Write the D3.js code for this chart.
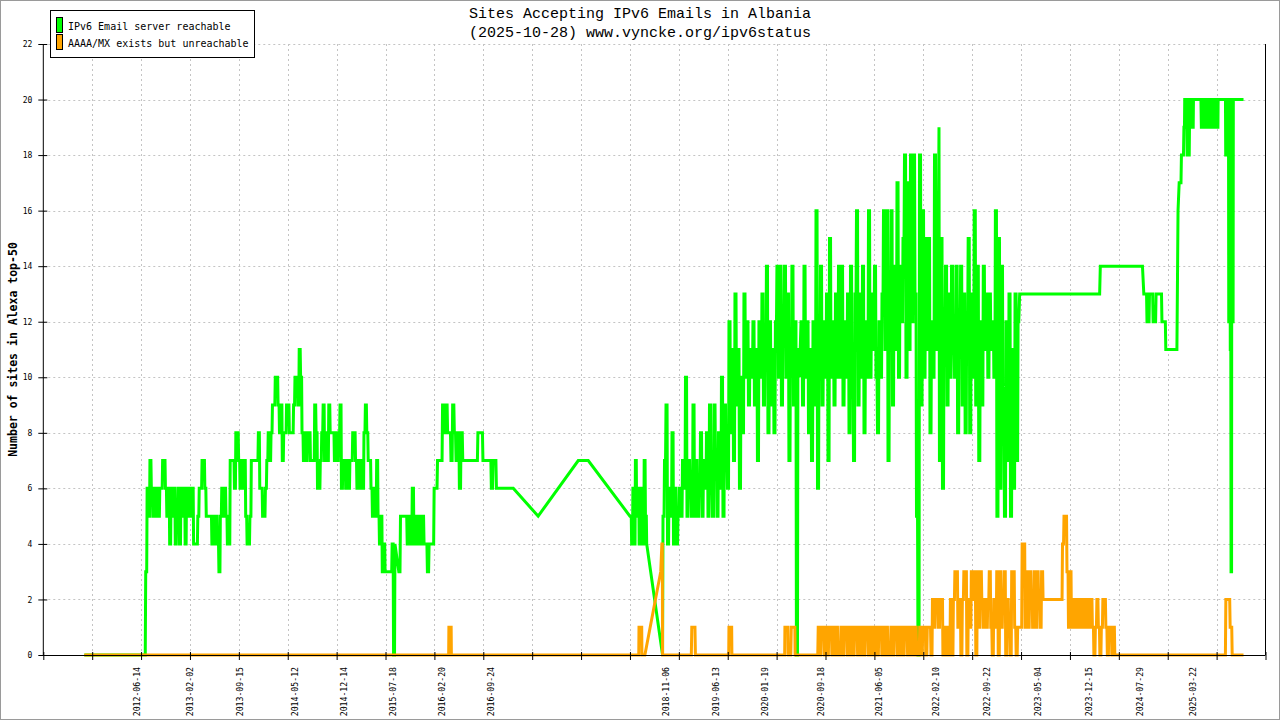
<!DOCTYPE html>
<html><head><meta charset="utf-8">
<script src="https://cdn.jsdelivr.net/npm/d3@7"></script>
<style>html,body{margin:0;padding:0;background:#fff;}svg{display:block;}</style>
</head><body>
<svg id="chart" width="1280" height="720"></svg>
<script>
// ---------- text ----------
const titleLines = ["Sites Accepting IPv6 Emails in Albania", "(2025-10-28) www.vyncke.org/ipv6status"];
const yTitle = "Number of sites in Alexa top-50";
const seriesNames = ["IPv6 Email server reachable", "AAAA/MX exists but unreachable"];
const seriesColors = ["#00ff00", "#ffa500"];

// ---------- axes ----------
const xDomain = ["2011-04-27", "2026-02-01"];
const xTickCount = 26;
const xTickLabels = ["2012-06-14","2013-02-02","2013-09-15","2014-05-12","2014-12-14","2015-07-18","2016-02-20","2016-09-24",
  "2018-11-06","2019-06-13","2020-01-19","2020-09-18","2021-06-05","2022-02-10","2022-09-22","2023-05-04","2023-12-15","2024-07-29","2025-03-22"];
const yTicks = [0,2,4,6,8,10,12,14,16,18,20,22];

// ---------- green: IPv6 Email server reachable ----------
const greenStart = [["2011-10-25",0],["2012-07-20",0]];
const greenRun2012 = [3,6,5,7,6,5,6,5,6,5, 6,6,7,7,6,5,6,4,6,5, 6,4,5,6,4,6,5,6,4,6, 5,6,5,6,4,4,4,5,6,6,
  7,7,6,5,5,5,5,4,5,4, 5,4,3,5,6,5,6,5,4,4, 7,7,7,6,8,8,7,6,7,6, 7,5,4,4,5,7,7,7,7,7, 8,6,6,5,5,6,7,8,7,8,
  9,9,10,10,9,8,9,7,8,8, 9,9,8,8,8,9,10,10,9,11, 10,8,7,8,7,8,8,7,7,7, 9,8,6,6,7,8,9,7,8,7, 9,8,8,8,7,8,7,8,9,6,
  7,7,6,7,6,7,7,8,8,7, 6,7,6,7,6,8,9,8,7,7, 6,5,6,5,7,5,4,5,3,4, 3,3,3,3,3,4,0,4];
const greenRun2015 = [3,5,5,5,5,4,5,4,6,4,5,4,5,4,5,4,4,3,4,4,4,6,6,7,7,7,9,8,9,8,8,7,9,8,7,8,6,8,7,
  7,7,7,7,7,7,7,7, 8,8,8, 7,7,7,7,7, 6,7,7, 6,6,6,6,6,6,6,6,6,6,6];
const greenGap2017 = [["2017-04-19",5],["2017-10-13",7],["2017-11-26",7],["2018-05-29",5]];
const greenRun2018 = [5,4,6,4,7,5,6,4,5,6,4,7,5,4];
const greenDrop2018 = [["2018-10-20",0]];
const greenRun2019 = [5,7,9,4,6,5,8,4,6,4,5,6,5,7,6,10,5,7,6,5,9,5,7,5,6,8,5,7,6,8,5,9,6,5,9,7,5,8,6,10,5,9,7,6,
  12,8,11,7,13,9,11,6,10,8,13,10,12,9,11,10,12,9,11,7,12,10,13,9,11,14,8,12,9,11,8,12,14,10,14,9,12,14,10,13,7,11,14,9,12,0,11,10];
const greenRun2021 = [12,9,14,10,12,8,11,7,12,9,16,6,11,14,9,12,10,13,7,15,10,12,9,13,10,14,10,14,9,12,10,13,8,14,10,7,13,16,9,13,
  10,14,8,12,10,16,10,13,11,14,10,8,12,10,13,16,11,16,7,13,16,9,14,11,17,10,14,12,15,18,10,17,11,18,12,18,13,5,0,18,9,16,10,15,11,15,8,12,10,18,11,16,19];
const greenRun2022 = [7,15,6,12,14,9,13,10,14,11,10,14,8,12,14,9,13,8,12,15,8,13,10,16,9,14,7,12,9,14,11,13,10,13,11,12,10,16,5,15,6,14,8,5,12,7,13,5,11,6,13,7,12];
const greenLate = [["2023-02-08",12],["2023-02-12",13],["2024-01-31",13],["2024-02-03",14],["2024-08-07",14],["2024-08-13",13],
  ["2024-08-25",13],["2024-08-27",12],["2024-09-05",12],["2024-09-07",13],["2024-09-21",13],["2024-09-23",12],["2024-10-04",12],["2024-10-06",13],
  ["2024-10-30",13],["2024-11-01",12],["2024-11-16",12],["2024-11-18",11],["2025-01-06",11],["2025-01-08",13],["2025-01-11",16],["2025-01-16",17],
  ["2025-01-24",17],["2025-01-26",18],["2025-02-04",18]];
const greenRun2025a = [19,20,19,20,18,20,18,19,20,19,20,19,20];
const greenMid2025a = [["2025-03-22",20],["2025-04-22",20]];
const greenRun2025b = [19,20,19,19,20,19,20,19,20,19,20,19,20,19,20,19,20,19,20,20,19,20];
const greenMid2025b = [["2025-07-09",20],["2025-08-04",20]];
const greenRun2025c = [20,18,20,18,19,12,20,11,3,20,12,20];
const greenEnd = [["2025-09-14",20],["2025-10-27",20]];

// ---------- orange: AAAA/MX exists but unreachable ----------
const orangeEarly = [["2011-10-25",0],["2016-03-20",0],["2016-03-21",1],["2016-03-31",1],["2016-04-01",0],
  ["2018-07-07",0],["2018-07-08",1],["2018-07-20",1],["2018-07-21",0],
  ["2018-08-03",0],["2018-10-12",3],["2018-10-17",4],["2018-10-19",4],["2018-10-20",0],
  ["2019-02-24",0],["2019-02-26",1],["2019-03-12",1],["2019-03-14",0],
  ["2019-08-08",0],["2019-08-09",1],["2019-08-21",1],["2019-08-22",0],
  ["2020-04-11",0],["2020-04-12",1],["2020-04-25",1],["2020-04-26",0],
  ["2020-05-08",0],["2020-05-10",1],["2020-05-26",1],["2020-05-27",0],["2020-09-04",0]];
const orangeRun2021 = [1,0,1,1,0,1,0,1,1,0,1,0,1,0,0,1,0,1,1,0,1,0,1,0,1,1,0,1,0,1,0,1,1,0,1,0,1,0,1,0,1,1,0,1,0,1,0,0,1,0,1,1,0,1,0,1,0,1,1,0,1,0,1,0,1,0,0,1,0,1,1,0,1,1];
const orangeRun2023 = [1,0, 2,1,2,2,1,2,2,0,1, 0,1,0, 2,0,2, 3,3,1, 2,0,2, 3,3, 0,2,1, 3,2,3,0,3, 1,3,2, 1,2,1,2, 3,1,
  0,2,1,3,0,3,1,2,3, 0,2,1,0,3,3,1,0, 1,1,1, 4,4,1, 3,1,3,2,1,3,1,3,2,1,3, 2,2,2,2,2,2,2,2,2,2,2,2,2, 4,5,5, 3,1,3,
  1,2,1,2,1,2,1,2,1,2,1,2,1,2,1, 0,1,2,1,0,1,2,2,1,0,1,1,0,1,0];
const orangeEnd = [["2024-04-09",0],["2025-08-08",0],["2025-08-10",2],["2025-08-27",2],["2025-08-29",1],["2025-09-05",1],["2025-09-07",0],["2025-10-27",0]];

// ordered pieces: ["pts", list] or ["run", fromDate, toDate, values]
const greenPieces = [
  ["pts", greenStart], ["run","2012-07-22","2015-07-27",greenRun2012], ["run","2015-08-13","2016-12-30",greenRun2015],
  ["pts", greenGap2017], ["run","2018-05-31","2018-08-11",greenRun2018], ["pts", greenDrop2018],
  ["run","2018-10-22","2020-06-15",greenRun2019], ["run","2020-06-22","2022-02-21",greenRun2021], ["run","2022-02-23","2023-02-05",greenRun2022],
  ["pts", greenLate], ["run","2025-02-06","2025-03-20",greenRun2025a], ["pts", greenMid2025a],
  ["run","2025-04-24","2025-07-07",greenRun2025b], ["pts", greenMid2025b], ["run","2025-08-06","2025-09-12",greenRun2025c], ["pts", greenEnd]
];
const orangePieces = [
  ["pts", orangeEarly], ["run","2020-09-06","2022-01-07",orangeRun2021], ["run","2022-01-10","2024-04-07",orangeRun2023], ["pts", orangeEnd]
];

// ---------- build ----------
const parse = d3.timeParse("%Y-%m-%d");
function build(pieces) {
  const out = [];
  pieces.forEach(p => {
    if (p[0] === "pts") {
      p[1].forEach(([d, v]) => out.push({t: parse(d), v}));
    } else {
      const t0 = +parse(p[1]), t1 = +parse(p[2]), vals = p[3], n = vals.length;
      const dt = (t1 - t0) / (n - 1);
      vals.forEach((v, i) => {
        out.push({t: new Date(t0 + i * dt), v});
        if (i < n - 1) out.push({t: new Date(t0 + i * dt + 0.7 * dt), v});
      });
    }
  });
  return out;
}
const greenData = build(greenPieces);
const orangeData = build(orangePieces);

// ---------- draw ----------
const svg = d3.select("#chart");
const W = 1280, H = 720;
const pLeft = 43.3, pRight = 1265.5, pTop = 44, pBottom = 655;
const mono = "'DejaVu Sans Mono', monospace";

svg.append("rect").attr("x",0.5).attr("y",0.5).attr("width",W-1).attr("height",H-1)
  .attr("fill","#fff").attr("stroke","#9a9a9a");

const x = d3.scaleTime().domain(xDomain.map(parse)).range([pLeft, pRight]);
const y = d3.scaleLinear().domain([0, 22]).range([pBottom, pTop]);
const [d0, d1] = x.domain();
const xTickDates = d3.range(xTickCount).map(i => new Date(+d0 + i * (d1 - d0) / (xTickCount - 1)));

// grid
const grid = svg.append("g").attr("stroke","#c4c4c4").attr("stroke-dasharray","2,3").attr("stroke-width",1);
grid.selectAll("line.h").data(yTicks.filter(v => v > 0)).join("line").attr("class","h")
  .attr("x1", pLeft).attr("x2", pRight).attr("y1", d => Math.round(y(d)) + 0.5).attr("y2", d => Math.round(y(d)) + 0.5);
grid.selectAll("line.v").data(xTickDates.slice(1, -1)).join("line").attr("class","v")
  .attr("y1", pTop).attr("y2", pBottom).attr("x1", d => Math.round(x(d)) + 0.5).attr("x2", d => Math.round(x(d)) + 0.5);

// series
svg.append("clipPath").attr("id","plotclip").append("rect")
  .attr("x", pLeft).attr("y", pTop - 3).attr("width", pRight - pLeft).attr("height", pBottom - pTop + 6);
const line = d3.line().x(d => x(d.t)).y(d => y(d.v));
const plot = svg.append("g").attr("clip-path","url(#plotclip)");
plot.append("path").datum(greenData).attr("d", line).attr("fill","none")
  .attr("stroke", seriesColors[0]).attr("stroke-width",3).attr("stroke-linejoin","miter");
plot.append("path").datum(orangeData).attr("d", line).attr("fill","none")
  .attr("stroke", seriesColors[1]).attr("stroke-width",3).attr("stroke-linejoin","miter");

// axes
const yAxis = d3.axisLeft(y).tickValues(yTicks).tickSize(5).tickPadding(6).tickFormat(d3.format("d"));
const gy = svg.append("g").attr("transform", `translate(${pLeft},0)`).call(yAxis);
gy.select(".domain").remove();
gy.selectAll(".tick line").attr("x1", 4).attr("x2", -5).attr("stroke","#000");
gy.selectAll(".tick text").attr("x", -11).attr("font-family", mono).attr("font-size", 8).attr("fill","#000");

const xAxis = d3.axisBottom(x).tickValues(xTickDates).tickSize(5).tickFormat(() => "");
const gx = svg.append("g").attr("transform", `translate(0,${pBottom})`).call(xAxis);
gx.select(".domain").remove();
gx.selectAll(".tick line").attr("y1", -3).attr("y2", 5).attr("stroke","#000");

svg.append("line").attr("x1", pLeft).attr("x2", pRight).attr("y1", pBottom + 0.5).attr("y2", pBottom + 0.5).attr("stroke","#000");
svg.append("line").attr("x1", pLeft).attr("x2", pLeft).attr("y1", pTop).attr("y2", pBottom).attr("stroke","#000");
svg.append("line").attr("x1", pRight).attr("x2", pRight).attr("y1", pTop).attr("y2", pBottom).attr("stroke","#000");

svg.append("g").selectAll("text").data(xTickLabels).join("text")
  .attr("transform", d => `translate(${x(parse(d)) + 2.6},667) rotate(-90)`)
  .attr("text-anchor","end").attr("font-family", mono).attr("font-size", 8.2).attr("fill","#000")
  .text(d => d);

// titles
svg.append("g").selectAll("text").data(titleLines).join("text")
  .attr("x", W / 2).attr("y", (d, i) => 18 + i * 19).attr("text-anchor","middle")
  .attr("font-family","'Liberation Mono', 'DejaVu Sans Mono', monospace").attr("font-size", 15).attr("fill","#000")
  .text(d => d);
svg.append("text").attr("transform", `translate(17,${(pTop + pBottom) / 2}) rotate(-90)`)
  .attr("text-anchor","middle").attr("font-family", mono).attr("font-weight","bold").attr("font-size", 11.5)
  .attr("fill","#000").text(yTitle);

// legend
const lg = svg.append("g");
lg.append("rect").attr("x", 50.5).attr("y", 10.5).attr("width", 204).attr("height", 47)
  .attr("fill","#fff").attr("stroke","#000");
const items = lg.selectAll("g.item").data(seriesNames).join("g").attr("class","item").attr("transform", (d, i) => `translate(0,${i * 17})`);
items.append("rect").attr("x", 56.5).attr("y", 17.5).attr("width", 6).attr("height", 15)
  .attr("fill", (d, i) => seriesColors[i]).attr("stroke","#000");
items.append("text").attr("x", 68).attr("y", 29.5).attr("font-family", mono).attr("font-size", 10).attr("fill","#000")
  .text(d => d);
</script>
</body></html>
